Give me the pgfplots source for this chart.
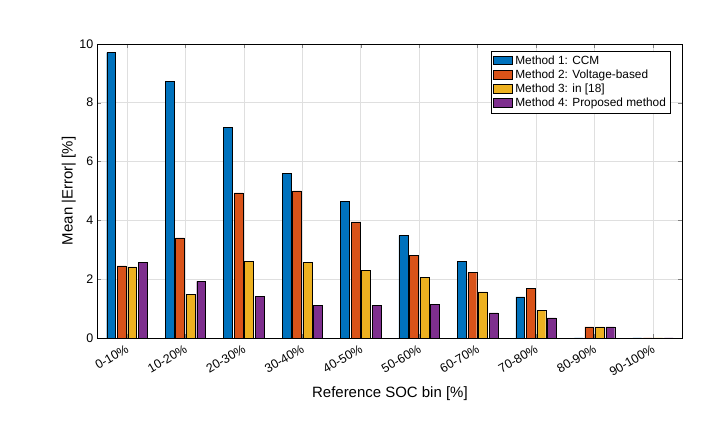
\documentclass[border=0pt]{standalone}
\usepackage{pgfplots}
\pgfplotsset{compat=1.18}
\usepackage{fontspec}
\setmainfont{Liberation Sans}
\definecolor{c1}{HTML}{0072BD}
\definecolor{c2}{HTML}{D95319}
\definecolor{c3}{HTML}{EDB120}
\definecolor{c4}{HTML}{7E2F8E}
\begin{document}
\begin{tikzpicture}
\begin{axis}[
  width=467bp, height=235bp, scale only axis,
  xmin=-0.5, xmax=9.5, ymin=0, ymax=10,
  xtick={0,...,9},
  xticklabels={0-10\%,10-20\%,20-30\%,30-40\%,40-50\%,50-60\%,60-70\%,70-80\%,80-90\%,90-100\%},
  x tick label style={rotate=30, anchor=north east, font=\fontsize{10}{12}\selectfont},
  ytick={0,2,4,6,8,10},
  y tick label style={font=\fontsize{10}{12}\selectfont},
  /pgf/number format/assume math mode=true,
  grid=major, grid style={gray!25},
  tick align=inside, major tick length=3pt,
  xlabel={Reference SOC bin [\%]}, ylabel={Mean |Error| [\%]},
  label style={font=\fontsize{12}{14}\selectfont},
  ylabel style={yshift=-4pt},
  legend style={at={(0.98,0.975)}, anchor=north east, font=\fontsize{9.5}{11}\selectfont, draw=black, cells={anchor=west}, inner sep=1.5pt, row sep=-1pt},
  legend image code/.code={\draw[#1] (0cm,-0.1cm) rectangle (0.55cm,0.14cm);},
  every axis plot/.append style={ybar, bar width=0.15, draw=black, line width=0.3pt},
]
\addplot[fill=c1, bar shift=-0.27] coordinates {(0,9.7)(1,8.72)(2,7.15)(3,5.6)(4,4.65)(5,3.48)(6,2.6)(7,1.4)(8,0)(9,0)};
\addplot[fill=c2, bar shift=-0.09] coordinates {(0,2.45)(1,3.4)(2,4.93)(3,5.0)(4,3.95)(5,2.82)(6,2.22)(7,1.68)(8,0.38)(9,0)};
\addplot[fill=c3, bar shift=0.09] coordinates {(0,2.42)(1,1.48)(2,2.6)(3,2.58)(4,2.3)(5,2.07)(6,1.57)(7,0.93)(8,0.38)(9,0)};
\addplot[fill=c4, bar shift=0.27] coordinates {(0,2.58)(1,1.92)(2,1.42)(3,1.1)(4,1.12)(5,1.15)(6,0.85)(7,0.68)(8,0.38)(9,0)};
\legend{Method 1: CCM,Method 2: Voltage-based,Method 3: in [18],Method 4: Proposed method}
\end{axis}
\pgfresetboundingbox
\path[use as bounding box] ([xshift=-78bp,yshift=-85bp]current axis.south west) rectangle ([xshift=19bp,yshift=35bp]current axis.north east);
\end{tikzpicture}
\end{document}
